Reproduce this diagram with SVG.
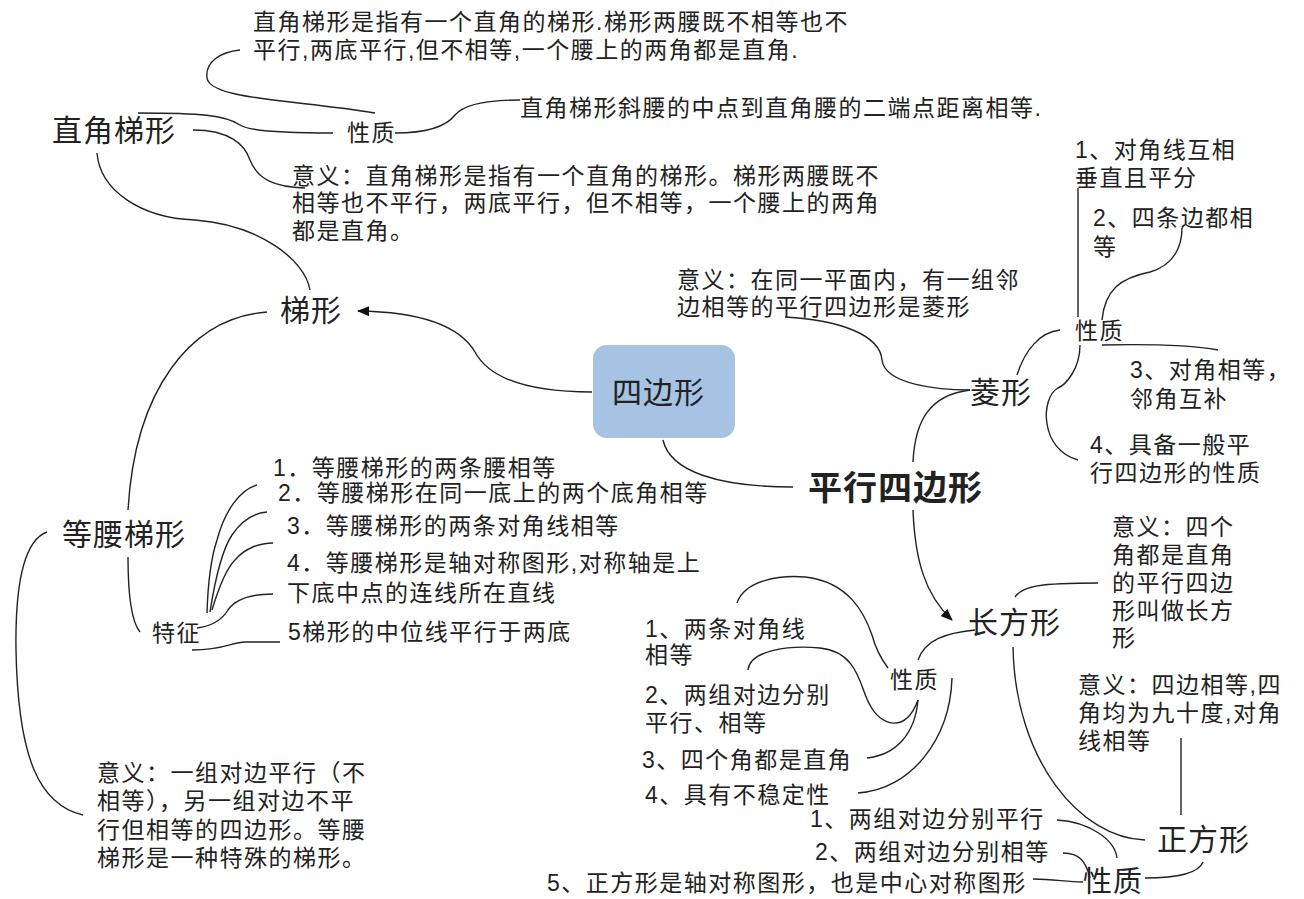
<svg xmlns="http://www.w3.org/2000/svg" width="1304" height="899" viewBox="0 0 1304 899">
<defs>
<style>
text{font-family:'Liberation Sans','Noto Sans CJK SC',sans-serif;fill:#222}
.t{font-size:23px;letter-spacing:1.5px}
.n{font-size:30px;letter-spacing:1px}
.b{font-size:34px;font-weight:bold;letter-spacing:1px}
.ln{fill:none;stroke:#222;stroke-width:1.4}
</style>
<marker id="ah" viewBox="0 0 12 10" refX="11" refY="5" markerWidth="12" markerHeight="10" markerUnits="userSpaceOnUse" orient="auto"><path d="M0,0 L12,5 L0,10 z" fill="#111"/></marker>
</defs>
<rect width="1304" height="899" fill="#fff"/>

<g id="connectors">
<path class="ln" d="M592,392 C530,392 490,380 475,352 C462,330 430,312 358,311" marker-end="url(#ah)"/>
<path class="ln" d="M663,440 C670,472 720,487 793,487"/>
<path class="ln" d="M97,153 C100,190 140,218 195,220 C260,225 305,260 310,290"/>
<path class="ln" d="M138,113 C200,113 225,115 240,125 C250,132 300,133 333,133"/>
<path class="ln" d="M375,113 C300,100 210,100 207,78 C205,62 220,52 240,50"/>
<path class="ln" d="M395,133 C425,133 445,128 455,115 C465,103 490,100 520,100"/>
<path class="ln" d="M193,130 C230,130 245,145 250,160 C258,180 275,187 305,188"/>
<path class="ln" d="M267,312 C190,318 135,390 128,510"/>
<path class="ln" d="M128,557 C128,590 130,620 140,632"/>
<path class="ln" d="M47,532 C25,540 15,580 16,650 C18,760 40,805 83,815"/>
<path class="ln" d="M207,613 C208,580 212,555 217,540 C225,510 240,490 257,485"/>
<path class="ln" d="M210,612 C215,580 222,550 232,535 C242,520 255,513 267,512"/>
<path class="ln" d="M212,610 C218,590 225,570 235,560 C245,548 260,543 273,543"/>
<path class="ln" d="M197,628 C212,626 222,620 228,610 C236,598 255,594 273,594"/>
<path class="ln" d="M192,650 C225,650 232,642 245,642 L280,642"/>
<path class="ln" d="M785,317 C840,320 880,335 882,360 C885,385 940,390 970,390"/>
<path class="ln" d="M913,462 C915,420 930,395 970,390"/>
<path class="ln" d="M1017,375 C1025,350 1040,332 1060,330"/>
<path class="ln" d="M1078,188 L1078,317"/>
<path class="ln" d="M1102,320 C1105,290 1120,278 1150,272 C1175,265 1182,245 1182,228"/>
<path class="ln" d="M1102,345 C1150,344 1190,345 1218,350"/>
<path class="ln" d="M1080,345 C1080,370 1065,385 1058,388 C1040,398 1040,450 1078,460"/>
<path class="ln" d="M913,510 C915,560 925,595 952,620" marker-end="url(#ah)"/>
<path class="ln" d="M1015,597 C1022,586 1040,583 1098,583"/>
<path class="ln" d="M1013,647 C1015,760 1080,838 1145,840"/>
<path class="ln" d="M918,660 C925,640 945,633 975,630"/>
<path class="ln" d="M737,603 C745,580 780,575 805,577 C850,582 865,615 872,635 C876,650 882,660 888,668"/>
<path class="ln" d="M748,670 C750,650 790,645 820,648 C860,652 860,690 870,705 C880,725 905,735 918,700"/>
<path class="ln" d="M867,758 C895,755 915,735 918,700"/>
<path class="ln" d="M858,793 C910,790 950,740 952,678"/>
<path class="ln" d="M1181,738 L1181,815"/>
<path class="ln" d="M1203,862 C1198,875 1170,878 1145,878"/>
<path class="ln" d="M1057,820 C1090,822 1115,840 1117,858"/>
<path class="ln" d="M1063,853 C1080,853 1086,862 1090,878"/>
<path class="ln" d="M1033,879 C1055,879 1065,882 1083,882"/>
</g>

<g id="node-center">
<rect x="593" y="345" width="142" height="93" rx="14" fill="#a6c3e3"/>
<text class="n" x="612" y="403">四边形</text>
</g>

<g id="node-trapezoid"><text class="n" x="280" y="321">梯形</text></g>

<g id="node-right-trapezoid">
<text class="n" x="52" y="141">直角梯形</text>
<text class="t" x="347" y="141">性质</text>
<text class="t" x="253" y="30">直角梯形是指有一个直角的梯形.梯形两腰既不相等也不</text>
<text class="t" x="253" y="58">平行,两底平行,但不相等,一个腰上的两角都是直角.</text>
<text class="t" x="520" y="116">直角梯形斜腰的中点到直角腰的二端点距离相等.</text>
<text class="t" x="292" y="184">意义：直角梯形是指有一个直角的梯形。梯形两腰既不</text>
<text class="t" x="292" y="211">相等也不平行，两底平行，但不相等，一个腰上的两角</text>
<text class="t" x="292" y="239">都是直角。</text>
</g>

<g id="node-isosceles">
<text class="n" x="62" y="545">等腰梯形</text>
<text class="t" x="152" y="641">特征</text>
<text class="t" x="273" y="476">1．等腰梯形的两条腰相等</text>
<text class="t" x="278" y="501">2．等腰梯形在同一底上的两个底角相等</text>
<text class="t" x="287" y="534">3．等腰梯形的两条对角线相等</text>
<text class="t" x="287" y="571">4．等腰梯形是轴对称图形,对称轴是上</text>
<text class="t" x="287" y="601">下底中点的连线所在直线</text>
<text class="t" x="288" y="640">5梯形的中位线平行于两底</text>
<text class="t" x="97" y="781">意义：一组对边平行（不</text>
<text class="t" x="97" y="809">相等），另一组对边不平</text>
<text class="t" x="97" y="838">行但相等的四边形。等腰</text>
<text class="t" x="97" y="866">梯形是一种特殊的梯形。</text>
</g>

<g id="node-parallelogram"><text class="b" x="808" y="500">平行四边形</text></g>

<g id="node-rhombus">
<text class="n" x="970" y="403">菱形</text>
<text class="t" x="677" y="288">意义：在同一平面内，有一组邻</text>
<text class="t" x="677" y="315">边相等的平行四边形是菱形</text>
<text class="t" x="1075" y="339">性质</text>
<text class="t" x="1075" y="158">1、对角线互相</text>
<text class="t" x="1075" y="186">垂直且平分</text>
<text class="t" x="1093" y="226">2、四条边都相</text>
<text class="t" x="1093" y="255">等</text>
<text class="t" x="1130" y="378">3、对角相等，</text>
<text class="t" x="1130" y="407">邻角互补</text>
<text class="t" x="1090" y="453">4、具备一般平</text>
<text class="t" x="1090" y="481">行四边形的性质</text>
</g>

<g id="node-rectangle">
<text class="n" x="968" y="633">长方形</text>
<text class="t" x="1112" y="535">意义：四个</text>
<text class="t" x="1112" y="563">角都是直角</text>
<text class="t" x="1112" y="591">的平行四边</text>
<text class="t" x="1112" y="619">形叫做长方</text>
<text class="t" x="1112" y="646">形</text>
<text class="t" x="890" y="688">性质</text>
<text class="t" x="645" y="637">1、两条对角线</text>
<text class="t" x="645" y="663">相等</text>
<text class="t" x="645" y="703">2、两组对边分别</text>
<text class="t" x="645" y="731">平行、相等</text>
<text class="t" x="642" y="768">3、四个角都是直角</text>
<text class="t" x="645" y="803">4、具有不稳定性</text>
</g>

<g id="node-square">
<text class="n" x="1157" y="850">正方形</text>
<text class="t" x="1078" y="693">意义：四边相等,四</text>
<text class="t" x="1078" y="721">角均为九十度,对角</text>
<text class="t" x="1078" y="749">线相等</text>
<text x="1083" y="892" style="font-size:29px;letter-spacing:1px">性质</text>
<text class="t" x="810" y="827">1、两组对边分别平行</text>
<text class="t" x="815" y="860">2、两组对边分别相等</text>
<text class="t" x="547" y="891">5、正方形是轴对称图形，也是中心对称图形</text>
</g>
</svg>
